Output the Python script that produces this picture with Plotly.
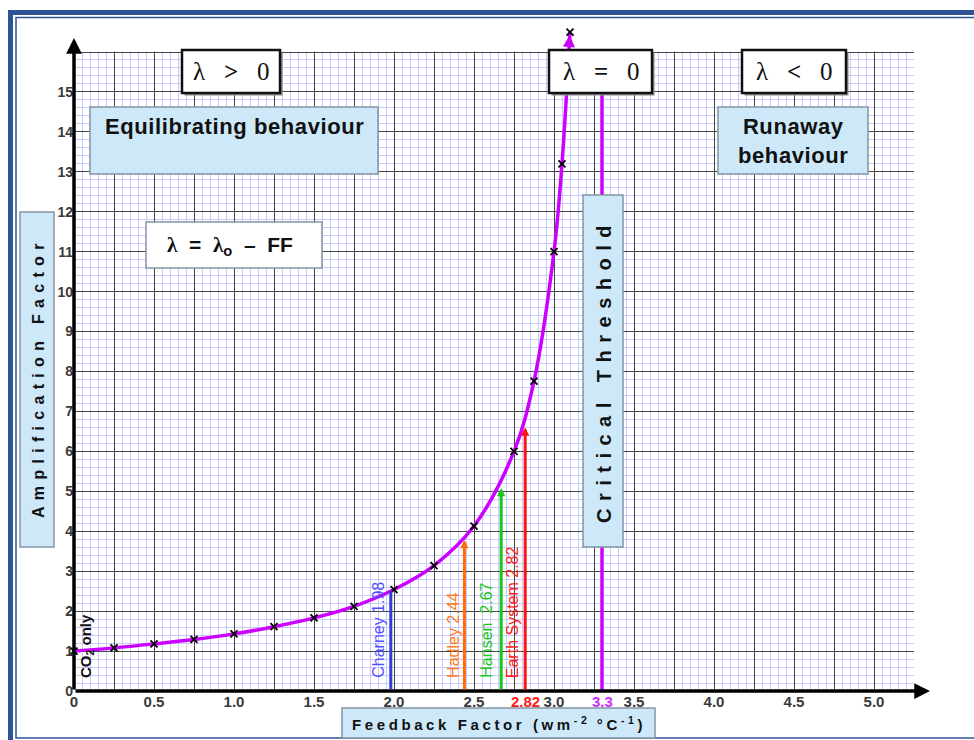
import numpy as np
import plotly.graph_objects as go

# ---------------- data ----------------
feedback_factor = [0.0, 0.25, 0.5, 0.75, 1.0, 1.25, 1.5, 1.75, 2.0, 2.25, 2.5, 2.75, 2.875, 3.0, 3.05, 3.1]
amplification = [1.0, 1.08, 1.18, 1.29, 1.43, 1.61, 1.83, 2.12, 2.54, 3.14, 4.13, 6.0, 7.76, 11.0, 13.2, 16.5]

model_names = ["Charney 1.98", "Hadley 2.44", "Hansen  2.67", "Earth System 2.82"]
model_ff = [1.98, 2.44, 2.67, 2.82]
model_top = [2.5, 3.78, 5.08, 6.6]
model_line_colors = ["#2f3fcf", "#ff6a12", "#17c817", "#ff1414"]
model_text_colors = ["#5050ff", "#ff7a22", "#22c822", "#ff1a1a"]
model_has_arrow = [False, True, True, True]
model_text_shift = [-13, -11, -15, -13]

critical_ff = 3.3
critical_top = 16

x_label_vals = [0, 0.5, 1.0, 1.5, 2.0, 2.5, 3.0, 3.5, 4.0, 4.5, 5.0]
x_label_text = ["0", "0.5", "1.0", "1.5", "2.0", "2.5", "3.0", "3.5", "4.0", "4.5", "5.0"]
y_label_vals = list(range(16))
y_label_text = [str(v) for v in y_label_vals]

special_x_labels = [2.82, 3.3]
special_x_text = ["2.82", "3.3"]
special_x_colors = ["#ff1a1a", "#d02bff"]

# ---------------- layout helpers ----------------
W, H = 974, 740
L, T, PW, PH = 74, 0, 840, 691
X_MAX, Y_GRID_MAX = 5.25, 16
UNIT_Y = 639 / 16.0
Y_TOP = PH / UNIT_Y
MAGENTA = "#cc00ff"
BOX_BLUE = "#cde9f9"
BOX_EDGE = "#8494a3"
SANS = "Liberation Sans, Arial, sans-serif"
SERIF = "Liberation Serif, Times New Roman, serif"


def px(v):
    return (v - L) / PW


def py(v):
    return (T + PH - v) / PH


x_grid = list(np.round(np.arange(0, X_MAX + 0.001, 0.25), 2))
x_grid_text = [x_label_text[x_label_vals.index(v)] if v in x_label_vals else "" for v in x_grid]
y_grid = list(range(0, Y_GRID_MAX + 1))
y_grid_text = [y_label_text[y_label_vals.index(v)] if v in y_label_vals else "" for v in y_grid]

fig = go.Figure()

# critical threshold line
fig.add_trace(go.Scatter(
    x=[critical_ff, critical_ff], y=[0, critical_top], mode="lines",
    line=dict(color=MAGENTA, width=3.5), hoverinfo="skip", showlegend=False))

# amplification curve
fig.add_trace(go.Scatter(
    x=feedback_factor, y=amplification, mode="lines+markers",
    line=dict(color=MAGENTA, width=3.5, shape="spline", smoothing=1.0),
    marker=dict(symbol="x-thin", size=7, color="black", line=dict(color="black", width=1.8)),
    cliponaxis=False, hoverinfo="skip", showlegend=False))

shapes = []
annotations = []

# white cover above the graph paper (hides grid above y=16, below traces)
shapes.append(dict(type="rect", xref="x", yref="y", x0=-0.05, x1=X_MAX + 0.1,
                   y0=Y_GRID_MAX + 0.6 / UNIT_Y, y1=Y_TOP + 0.5,
                   line=dict(width=0), fillcolor="white", layer="between"))

# outer page frame
shapes.append(dict(type="rect", xref="paper", yref="paper", x0=px(10.5), y0=py(12.5), x1=px(1010), y1=py(744),
                   line=dict(color="#2e5496", width=5), fillcolor="rgba(0,0,0,0)", layer="above"))
shapes.append(dict(type="rect", xref="paper", yref="paper", x0=px(16), y0=py(17.5), x1=px(1010), y1=py(738),
                   line=dict(color="#2e5496", width=1.5), fillcolor="rgba(0,0,0,0)", layer="above"))


def box(x0, y0, x1, y1, fill, edge, width, shadow=None):
    if shadow:
        shapes.append(dict(type="rect", xref="paper", yref="paper", x0=px(x0 + 2.5), y0=py(y0 + 2.5),
                           x1=px(x1 + 2.5), y1=py(y1 + 2.5), line=dict(width=0), fillcolor=shadow, layer="above"))
    shapes.append(dict(type="rect", xref="paper", yref="paper", x0=px(x0), y0=py(y0), x1=px(x1), y1=py(y1),
                       line=dict(color=edge, width=width), fillcolor=fill, layer="above"))


def text(xc, yc, s, size, color="#111111", family=SANS, weight="bold", angle=0):
    annotations.append(dict(xref="paper", yref="paper", x=px(xc), y=py(yc), text=s, showarrow=False,
                             xanchor="center", yanchor="middle", textangle=angle,
                             font=dict(family=family, size=size, color=color, weight=weight)))


# lambda boxes
for (x0, x1, op) in [(182, 280, "&gt;"), (549, 652, "="), (742, 846, "&lt;")]:
    box(x0, 50, x1, 93, "white", "#111111", 2.5, shadow="#8a8a8a")
    text((x0 + x1) / 2, 72, "λ   <b>" + op + "</b>   0", 25, family=SERIF, weight="normal")

# behaviour boxes
box(90, 107, 378, 174, BOX_BLUE, BOX_EDGE, 1.5)
text(234, 127, '<span style="letter-spacing:0.6px">Equilibrating behaviour</span>', 22)
box(718, 107, 868, 174, BOX_BLUE, BOX_EDGE, 1.5)
text(793, 141, '<span style="letter-spacing:0.6px">Runaway</span><br>'
     '<span style="letter-spacing:0.6px">behaviour</span>', 22)

# formula box
box(146, 222, 322, 268, "white", BOX_EDGE, 1.5)
text(230, 246, '<span style="font-family:Liberation Serif">λ</span>  =  '
     '<span style="font-family:Liberation Serif">λ</span><sub>o</sub>  –  FF', 21)

# critical threshold box
box(583, 195, 623, 547, BOX_BLUE, BOX_EDGE, 1.5)
text(604, 371, '<span style="letter-spacing:7.5px">Critical Threshold</span>', 20, angle=-90)

# axis title boxes
box(20, 212, 54, 547, BOX_BLUE, BOX_EDGE, 1.5)
text(38, 378, '<span style="letter-spacing:6.3px">Amplification Factor</span>', 16, angle=-90)
box(342, 708, 655, 738, BOX_BLUE, BOX_EDGE, 1.5)
text(499, 723, '<span style="letter-spacing:3.6px">Feedback Factor (wm<sup>-2 </sup>°C<sup>-1</sup>)</span>', 15)

# axes with arrows
annotations.append(dict(x=0, y=16.35, ax=0, ay=0, xref="x", yref="y", axref="x", ayref="y", text="",
                        showarrow=True, arrowhead=2, arrowsize=0.9, arrowwidth=3.5, arrowcolor="black"))
annotations.append(dict(x=5.35, y=0, ax=0, ay=0, xref="x", yref="y", axref="x", ayref="y", text="",
                        showarrow=True, arrowhead=2, arrowsize=0.9, arrowwidth=3.5, arrowcolor="black"))

# arrow at the top of the curve
annotations.append(dict(x=feedback_factor[-1], y=amplification[-1], ax=-1, ay=14, xref="x", yref="y",
                        text="", showarrow=True, arrowhead=2, arrowsize=0.8, arrowwidth=3, arrowcolor=MAGENTA,
                        standoff=3))

# model lines and labels
for name, ff, top, lc, tc, arr, dx in zip(model_names, model_ff, model_top, model_line_colors,
                                           model_text_colors, model_has_arrow, model_text_shift):
    annotations.append(dict(x=ff, y=top, ax=ff, ay=0, xref="x", yref="y", axref="x", ayref="y", text="",
                            showarrow=True, arrowhead=2 if arr else 0, arrowsize=0.55, arrowwidth=3,
                            arrowcolor=lc))
    annotations.append(dict(x=ff, y=0, xref="x", yref="y", text=name, showarrow=False, textangle=-90,
                            xanchor="center", yanchor="bottom", xshift=dx, yshift=11,
                            font=dict(family=SANS, size=16, color=tc)))

# CO2 only label
annotations.append(dict(x=0, y=0, xref="x", yref="y", text="CO<sub>2</sub> only", showarrow=False,
                        textangle=-90, xanchor="center", yanchor="bottom", xshift=12, yshift=11,
                        font=dict(family=SANS, size=15, color="#111111", weight="bold")))

# special coloured x labels
for v, s, c in zip(special_x_labels, special_x_text, special_x_colors):
    annotations.append(dict(x=v, xref="x", yref="paper", y=py(701), text=s, showarrow=False,
                            xanchor="center", yanchor="middle",
                            font=dict(family=SANS, size=15, color=c, weight="bold")))

fig.update_layout(
    width=W, height=H,
    margin=dict(l=L, r=W - L - PW, t=T, b=H - T - PH),
    paper_bgcolor="white", plot_bgcolor="white",
    showlegend=False,
    shapes=shapes, annotations=annotations,
    xaxis=dict(range=[0, X_MAX], tickmode="array", tickvals=x_grid, ticktext=x_grid_text,
               showgrid=True, gridcolor="#474747", gridwidth=1, zeroline=False, showline=False, ticks="",
               tickfont=dict(family=SANS, size=15, color="#3a3a3a", weight="bold"),
               minor=dict(tickmode="linear", tick0=0, dtick=0.05, showgrid=True, gridcolor="#c9c9fb", gridwidth=1),
               fixedrange=True),
    yaxis=dict(range=[0, Y_TOP], tickmode="array", tickvals=y_grid, ticktext=y_grid_text,
               showgrid=True, gridcolor="#474747", gridwidth=1, zeroline=False, showline=False, ticks="",
               tickfont=dict(family=SANS, size=14, color="#3a3a3a", weight="bold"),
               minor=dict(tickmode="linear", tick0=0, dtick=0.2, showgrid=True, gridcolor="#c9c9fb", gridwidth=1),
               fixedrange=True),
)

fig.write_html("out.html", include_plotlyjs=True, config={"displayModeBar": False},
               post_script="document.body.style.margin='0';document.body.style.overflow='hidden';")
